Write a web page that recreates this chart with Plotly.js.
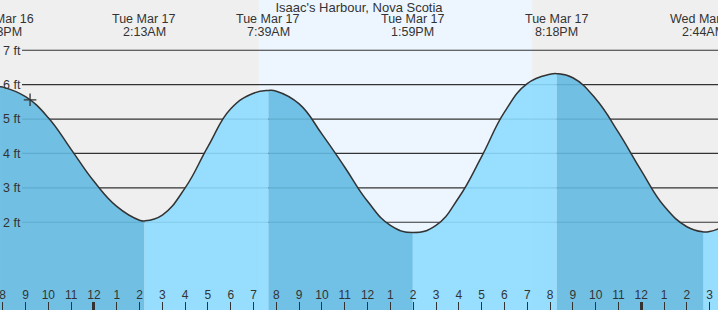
<!DOCTYPE html>
<html><head><meta charset="utf-8">
<script src="https://cdn.plot.ly/plotly-3.0.1.min.js"></script>
<style>html,body{margin:0;padding:0;background:#efefef;overflow:hidden}#chart{width:718px;height:310px}</style>
</head><body><div id="chart"></div>
<script>
const chartTitle = "Isaac's Harbour, Nova Scotia";

// Tide height readings (ft), local time
const times = [
  "2026-03-16 19:45","2026-03-16 19:53","2026-03-16 20:00","2026-03-16 21:00","2026-03-16 22:00","2026-03-16 23:00",
  "2026-03-17 00:00","2026-03-17 01:00","2026-03-17 02:00","2026-03-17 02:13","2026-03-17 03:00","2026-03-17 04:00",
  "2026-03-17 05:00","2026-03-17 06:00","2026-03-17 07:00","2026-03-17 07:39","2026-03-17 08:00","2026-03-17 09:00",
  "2026-03-17 10:00","2026-03-17 11:00","2026-03-17 12:00","2026-03-17 13:00","2026-03-17 13:59","2026-03-17 15:00",
  "2026-03-17 16:00","2026-03-17 17:00","2026-03-17 18:00","2026-03-17 19:00","2026-03-17 20:00","2026-03-17 20:18",
  "2026-03-17 21:00","2026-03-17 22:00","2026-03-17 23:00","2026-03-18 00:00","2026-03-18 01:00","2026-03-18 02:00",
  "2026-03-18 02:44","2026-03-18 03:00","2026-03-18 03:25"
];
const heights = [
  5.93, 5.94, 5.93, 5.65, 5.04, 4.12,
  3.19, 2.46, 2.06, 2.04, 2.21, 3.00,
  4.20, 5.30, 5.75, 5.83, 5.81, 5.44,
  4.56, 3.60, 2.61, 1.91, 1.70, 1.91,
  2.72, 3.91, 5.20, 6.03, 6.30, 6.32,
  6.20, 5.59, 4.61, 3.50, 2.47, 1.87,
  1.72, 1.73, 1.82
];

// High / low tide labels
const extremeTimes = ["2026-03-16 19:53","2026-03-17 02:13","2026-03-17 07:39","2026-03-17 13:59","2026-03-17 20:18","2026-03-18 02:44"];
const extremeDates = ["Mon Mar 16","Tue Mar 17","Tue Mar 17","Tue Mar 17","Tue Mar 17","Wed Mar 18"];
const extremeClock = ["7:53PM","2:13AM","7:39AM","1:59PM","8:18PM","2:44AM"];

const gridFeet = [2, 3, 4, 5, 6, 7];
const gridLabels = ["2 ft", "3 ft", "4 ft", "5 ft", "6 ft", "7 ft"];
const midnights = ["2026-03-17 00:00", "2026-03-18 00:00"];
const nowTime = "2026-03-16 21:12";
const nowHeight = 5.56;
const sunrise = "2026-03-17 07:14";
const sunset = "2026-03-17 19:13";
const xRange = ["2026-03-16 19:52:55", "2026-03-18 03:21:55"];
const yRange = [-0.55, 8.46];

const DARK = "rgba(99,186,226,0.9)";
const LIGHT = "rgba(141,219,255,0.9)";
const TXT = "#333";
const FONT = "Liberation Sans, Arial, sans-serif";

const traces = [];
const bounds = [0];
extremeTimes.forEach(t => { const i = times.indexOf(t); if (i > 0 && i < times.length - 1) bounds.push(i); });
bounds.push(times.length - 1);
for (let k = 0; k < bounds.length - 1; k++) {
  const a = bounds[k], b = bounds[k + 1];
  const sx = times.slice(a, b + 1), sy = heights.slice(a, b + 1);
  const falling = sy[sy.length - 1] < sy[0];
  traces.push({x: [times[a], times[b]], y: [yRange[0], yRange[0]], mode: "lines",
    line: {width: 0}, hoverinfo: "skip", showlegend: false});
  traces.push({x: sx, y: sy, mode: "lines", fill: "tonexty", fillcolor: falling ? DARK : LIGHT,
    line: {width: 0, shape: "spline", smoothing: 1.3}, hoverinfo: "skip", showlegend: false});
}
traces.push({x: times, y: heights, mode: "lines", line: {color: TXT, width: 1.5, shape: "spline", smoothing: 1.3},
  hoverinfo: "skip", showlegend: false});
traces.push({x: [nowTime], y: [nowHeight], mode: "markers",
  marker: {symbol: "cross-thin", size: 9, color: TXT, line: {color: TXT, width: 1.3}},
  hoverinfo: "skip", showlegend: false});

const shapes = [{type: "rect", xref: "x", yref: "paper", x0: sunrise, x1: sunset, y0: 0, y1: 1,
  fillcolor: "#edf6ff", line: {width: 0}, layer: "below"}];
gridFeet.forEach(v => shapes.push({type: "line", xref: "paper", x0: 22 / 718, x1: 1, yref: "y", y0: v, y1: v,
  line: {color: TXT, width: 1.2}, layer: "below"}));

const annotations = [];
extremeTimes.forEach((t, i) => {
  annotations.push({x: t, xref: "x", y: 1 - 19.5 / 310, yref: "paper", yanchor: "middle", xanchor: "center",
    text: extremeDates[i], showarrow: false, font: {family: FONT, size: 12.5, color: TXT}});
  annotations.push({x: t, xref: "x", y: 1 - 32.3 / 310, yref: "paper", yanchor: "middle", xanchor: "center",
    text: extremeClock[i], showarrow: false, font: {family: FONT, size: 12.5, color: TXT}});
});

const layout = {
  width: 718, height: 310, margin: {l: 0, r: 0, t: 0, b: 0, pad: 0},
  paper_bgcolor: "#efefef", plot_bgcolor: "#efefef", showlegend: false,
  font: {family: FONT, color: TXT},
  title: {text: chartTitle, x: 0.5, xanchor: "center", xref: "container", y: 1 - 7.3 / 310, yanchor: "middle",
    yref: "container", font: {family: FONT, size: 13, color: TXT}},
  xaxis: {type: "date", range: xRange, tickformat: "%-I", dtick: 3600000, tick0: "2026-03-16 00:00",
    ticks: "inside", ticklen: 8, tickwidth: 1, tickcolor: TXT, ticklabelposition: "inside",
    ticklabeloverflow: "allow", tickfont: {family: FONT, size: 12, color: TXT},
    showgrid: false, zeroline: false, showline: false, fixedrange: true},
  xaxis2: {type: "date", range: xRange, overlaying: "x", anchor: "y", side: "bottom", tickmode: "array",
    tickvals: midnights, ticks: "inside", ticklen: 8, tickwidth: 3, tickcolor: TXT, showticklabels: false,
    showgrid: false, zeroline: false, showline: false, fixedrange: true},
  yaxis: {range: yRange, tickmode: "array", tickvals: gridFeet, ticktext: gridLabels, ticks: "",
    ticklabelposition: "inside", ticklabeloverflow: "allow", tickfont: {family: FONT, size: 12.5, color: TXT},
    showgrid: false, zeroline: false, showline: false, fixedrange: true},
  shapes: shapes, annotations: annotations
};
traces.push({x: midnights, y: [null, null], xaxis: "x2", yaxis: "y", mode: "markers", hoverinfo: "skip", showlegend: false});
Plotly.newPlot("chart", traces, layout, {staticPlot: true, displayModeBar: false});
</script></body></html>
